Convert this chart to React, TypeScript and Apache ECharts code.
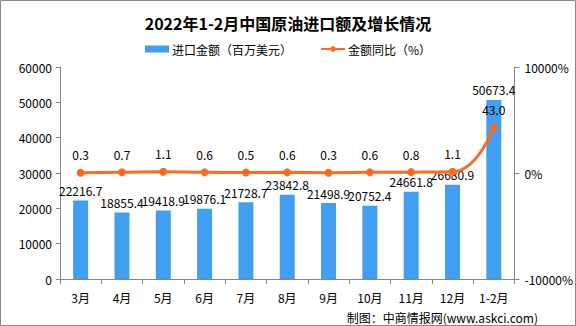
import React, { useEffect, useRef } from "react";
import * as echarts from "echarts";

const categories = ["3月", "4月", "5月", "6月", "7月", "8月", "9月", "10月", "11月", "12月", "1-2月"];
const importValues = [22216.7, 18855.4, 19418.9, 19876.1, 21728.7, 23842.8, 21498.9, 20752.4, 24661.8, 26680.9, 50673.4];
const yoyValues = [0.3, 0.7, 1.1, 0.6, 0.5, 0.6, 0.3, 0.6, 0.8, 1.1, 43.0];
const leftTicks = { min: 0, max: 60000, interval: 10000 };
const rightTicks = { min: -100, max: 100, interval: 100 };

const FONT = "'Noto Sans CJK SC', sans-serif";

export default function App() {
  const ref = useRef<HTMLDivElement>(null);
  useEffect(() => {
    const chart = echarts.init(ref.current!, null, { renderer: "svg" });
    chart.setOption({
      animation: false,
      textStyle: { fontFamily: FONT },
      title: {
        text: "2022年1-2月中国原油进口额及增长情况",
        left: "center",
        top: 10,
        textStyle: { fontSize: 16, fontWeight: "bold", color: "#000", fontFamily: FONT },
      },
      legend: {
        top: 38,
        left: "center",
        itemGap: 28,
        itemWidth: 24,
        itemHeight: 7,
        textStyle: { fontSize: 12, color: "#000", fontFamily: FONT, padding: [0, 0, 0, -2] },
        data: [
          { name: "进口金额（百万美元）", icon: "rect" },
          { name: "金额同比（%）" },
        ],
      },
      grid: { left: 60, right: 60, top: 67, bottom: 47 },
      xAxis: {
        type: "category",
        data: categories,
        axisLine: { lineStyle: { color: "#868686" } },
        axisTick: { show: true, length: 5, lineStyle: { color: "#868686" } },
        axisLabel: { color: "#000", fontSize: 12, margin: 12, fontFamily: FONT },
      },
      yAxis: [
        {
          type: "value",
          min: leftTicks.min,
          max: leftTicks.max,
          interval: leftTicks.interval,
          axisLine: { show: true, lineStyle: { color: "#868686" } },
          axisTick: { show: true, length: 4, lineStyle: { color: "#868686" } },
          splitLine: { show: false },
          axisLabel: {
            color: "#000",
            fontSize: 12,
            margin: 8,
            fontFamily: FONT,
            formatter: (v: number) => String(v),
          },
        },
        {
          type: "value",
          min: rightTicks.min,
          max: rightTicks.max,
          interval: rightTicks.interval,
          position: "right",
          axisLine: { show: true, lineStyle: { color: "#868686" } },
          axisTick: { show: true, length: 5, lineStyle: { color: "#868686" } },
          splitLine: { show: false },
          axisLabel: {
            color: "#000",
            fontSize: 12,
            margin: 10,
            fontFamily: FONT,
            formatter: (v: number) => `${v * 100}%`,
          },
        },
      ],
      series: [
        {
          name: "进口金额（百万美元）",
          type: "bar",
          data: importValues,
          barWidth: 15,
          itemStyle: { color: "#419ff1" },
          label: {
            show: true,
            position: "top",
            distance: 4,
            color: "#000",
            fontSize: 12,
            fontFamily: FONT,
            formatter: (p: any) => p.value.toFixed(1),
          },
        },
        {
          name: "金额同比（%）",
          type: "line",
          yAxisIndex: 1,
          data: yoyValues,
          smooth: 0.5,
          symbol: "circle",
          symbolSize: 8,
          lineStyle: { color: "#ff6a20", width: 3 },
          itemStyle: { color: "#ff6a20" },
          label: {
            show: true,
            position: "top",
            distance: 8,
            color: "#000",
            fontSize: 12,
            fontFamily: FONT,
            formatter: (p: any) => p.value.toFixed(1),
          },
          z: 5,
        },
      ],
      graphic: [
        {
          type: "text",
          right: 38,
          bottom: 3,
          style: {
            text: "制图：中商情报网(www.askci.com)",
            fill: "#000",
            font: `12px ${FONT}`,
          },
        },
        {
          type: "rect",
          shape: { x: 0.5, y: 0.5, width: 575, height: 325 },
          style: { fill: "none", stroke: "#888", lineWidth: 1 },
          silent: true,
        },
      ],
    });
    return () => chart.dispose();
  }, []);
  return (
    <div
      ref={ref}
      style={{ position: "fixed", left: 0, top: 0, width: 576, height: 326, background: "#fff" }}
    />
  );
}
